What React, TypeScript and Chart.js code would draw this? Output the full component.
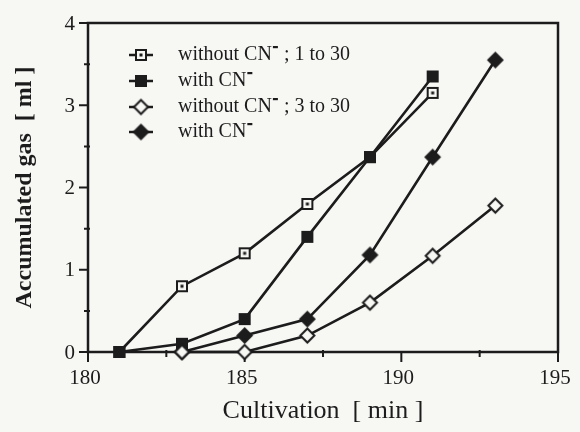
import React, { useEffect, useRef } from 'react';
import { Chart, registerables } from 'chart.js';
Chart.register(...registerables);

const xSeriesA = [181, 183, 185, 187, 189, 191];
const withoutCN1to30 = [0, 0.8, 1.2, 1.8, 2.37, 3.15];
const withCN1to30 = [0, 0.1, 0.4, 1.4, 2.37, 3.35];
const xSeriesB = [183, 185, 187, 189, 191, 193];
const withoutCN3to30 = [0, 0, 0.2, 0.6, 1.17, 1.78];
const withCN3to30 = [0, 0.2, 0.4, 1.18, 2.37, 3.55];
const legendLabels = ['without CN\u207B ; 1 to 30', 'with CN\u207B', 'without CN\u207B ; 3 to 30', 'with CN\u207B'];
const xMajorTicks = [180, 185, 190, 195];
const xMinorTicks = [182.5, 187.5, 192.5];
const yMajorTicks = [0, 1, 2, 3, 4];
const yMinorTicks = [0.5, 1.5, 2.5, 3.5];
const xTitle = 'Cultivation  [ min ]';
const yTitle = 'Accumulated gas  [ ml ]';

const INK = '#1c1c1c';
const PAPER = '#f7f7f4';
const SERIF = '"Liberation Serif", "DejaVu Serif", serif';

function makeMarker(kind: string): HTMLCanvasElement {
  const c = document.createElement('canvas');
  const s = kind.includes('Diamond') ? 19 : 14;
  c.width = s; c.height = s;
  const ctx = c.getContext('2d')!;
  const m = s / 2;
  ctx.lineWidth = 2;
  ctx.strokeStyle = INK;
  ctx.fillStyle = INK;
  if (kind === 'openSquare') {
    ctx.fillStyle = PAPER;
    ctx.fillRect(m - 5, m - 5, 10, 10);
    ctx.strokeRect(m - 5, m - 5, 10, 10);
    ctx.fillStyle = INK;
    ctx.fillRect(m - 1.5, m - 1.5, 3, 3);
  } else if (kind === 'filledSquare') {
    ctx.fillRect(m - 6, m - 6, 12, 12);
  } else {
    const r = kind === 'openDiamond' ? 7 : 8.5;
    ctx.beginPath();
    ctx.moveTo(m, m - r); ctx.lineTo(m + r, m); ctx.lineTo(m, m + r); ctx.lineTo(m - r, m); ctx.closePath();
    if (kind === 'openDiamond') {
      ctx.fillStyle = PAPER; ctx.fill(); ctx.stroke();
    } else {
      ctx.fill();
    }
  }
  return c;
}

export default function App() {
  const ref = useRef<HTMLCanvasElement>(null);
  useEffect(() => {
    document.body.style.margin = '0';
    document.body.style.background = PAPER;
    const markers = ['openSquare', 'filledSquare', 'openDiamond', 'filledDiamond'].map(makeMarker);
    const mk = (xs: number[], ys: number[]) => xs.map((x, i) => ({ x, y: ys[i] }));
    const series = [
      mk(xSeriesA, withoutCN1to30),
      mk(xSeriesA, withCN1to30),
      mk(xSeriesB, withoutCN3to30),
      mk(xSeriesB, withCN3to30),
    ];
    const order = [2, 3, 1, 0];

    const plugin = {
      id: 'paper',
      beforeDraw(chart: any) {
        const ctx = chart.ctx;
        ctx.save();
        ctx.fillStyle = PAPER;
        ctx.fillRect(0, 0, chart.width, chart.height);
        ctx.restore();
      },
      beforeDatasetsDraw(chart: any) {
        const ctx = chart.ctx;
        const { left, right, top, bottom } = chart.chartArea;
        const xs = chart.scales.x;
        const ys = chart.scales.y;
        ctx.save();
        ctx.strokeStyle = INK;
        ctx.lineWidth = 2.5;
        ctx.strokeRect(left, top, right - left, bottom - top);
        ctx.lineWidth = 2;
        ctx.beginPath();
        yMajorTicks.forEach(v => { const p = ys.getPixelForValue(v); ctx.moveTo(left - 9, p); ctx.lineTo(left, p); });
        yMinorTicks.forEach(v => { const p = ys.getPixelForValue(v); ctx.moveTo(left - 4, p); ctx.lineTo(left + 2, p); });
        xMajorTicks.forEach(v => { const p = xs.getPixelForValue(v); ctx.moveTo(p, bottom); ctx.lineTo(p, bottom + 10); });
        xMinorTicks.forEach(v => { const p = xs.getPixelForValue(v); ctx.moveTo(p, bottom - 2); ctx.lineTo(p, bottom + 5); });
        ctx.stroke();
        ctx.restore();
      },
      afterDraw(chart: any) {
        const ctx = chart.ctx;
        const { left, right, top, bottom } = chart.chartArea;
        const xs = chart.scales.x;
        const ys = chart.scales.y;
        ctx.save();
        ctx.fillStyle = INK;
        ctx.strokeStyle = INK;
        // tick labels
        ctx.font = `21px ${SERIF}`;
        ctx.textAlign = 'right';
        ctx.textBaseline = 'middle';
        yMajorTicks.forEach(v => ctx.fillText(String(v), left - 13, ys.getPixelForValue(v) + 1));
        ctx.textAlign = 'center';
        ctx.textBaseline = 'top';
        xMajorTicks.forEach(v => ctx.fillText(String(v), xs.getPixelForValue(v) - 3, bottom + 16));
        // titles
        ctx.font = `26px ${SERIF}`;
        ctx.textBaseline = 'middle';
        ctx.fillText(xTitle, (left + right) / 2, 411);
        ctx.save();
        ctx.translate(25, (top + bottom) / 2);
        ctx.rotate(-Math.PI / 2);
        ctx.font = `bold 24px ${SERIF}`;
        ctx.fillText(yTitle, 0, 0);
        ctx.restore();
        // legend
        const rowY = [55, 81, 107, 132];
        ctx.font = `20px ${SERIF}`;
        ctx.textAlign = 'left';
        ctx.textBaseline = 'middle';
        legendLabels.forEach((lab, i) => {
          const y = rowY[i];
          ctx.lineWidth = 2.5;
          ctx.beginPath();
          ctx.moveTo(129, y); ctx.lineTo(153, y);
          ctx.stroke();
          const m = markers[i];
          ctx.drawImage(m, 141 - m.width / 2, y - m.height / 2);
          // text, with the superscript minus drawn as a small raised dash
          const parts = lab.split('\u207B');
          let x = 178;
          parts.forEach((p, j) => {
            if (j > 0) {
              ctx.fillRect(x + 1, y - 9, 5, 2.2);
              x += 7;
            }
            ctx.fillText(p, x, y);
            x += ctx.measureText(p).width;
          });
        });
        ctx.restore();
      },
    };

    const chart = new Chart(ref.current!, {
      type: 'line',
      data: {
        datasets: order.map(i => ({
          label: legendLabels[i],
          data: series[i],
          borderColor: INK,
          borderWidth: 2.6,
          pointStyle: markers[i] as any,
          pointRadius: 7,
          clip: false as any,
          tension: 0,
        })),
      },
      options: {
        animation: false,
        responsive: false,
        layout: { padding: { top: 23, right: 22, left: 0, bottom: 0 } },
        plugins: { legend: { display: false }, tooltip: { enabled: false } },
        scales: {
          x: {
            type: 'linear', min: 180, max: 195,
            grid: { display: false }, border: { display: false },
            ticks: { display: false },
            afterFit: (s: any) => { s.height = 80; },
          },
          y: {
            type: 'linear', min: 0, max: 4,
            grid: { display: false }, border: { display: false },
            ticks: { display: false },
            afterFit: (s: any) => { s.width = 88; },
          },
        },
      },
      plugins: [plugin],
    });
    return () => chart.destroy();
  }, []);
  return (
    <div style={{ position: 'absolute', left: 0, top: 0, width: 580, height: 432 }}>
      <canvas ref={ref} width={580} height={432} style={{ width: 580, height: 432 }} />
    </div>
  );
}
